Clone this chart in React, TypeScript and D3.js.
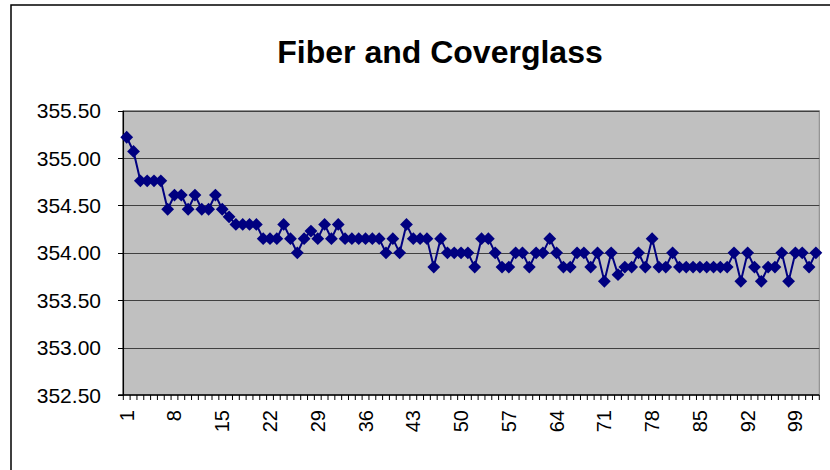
import React from "react";
import * as d3 from "d3";

const title = "Fiber and Coverglass";
const values: number[] = [
  355.22, 355.07, 354.76, 354.76, 354.76, 354.76, 354.46, 354.61, 354.61, 354.46,
  354.61, 354.46, 354.46, 354.61, 354.46, 354.38, 354.30, 354.30, 354.30, 354.30,
  354.15, 354.15, 354.15, 354.30, 354.15, 354.00, 354.15, 354.23, 354.15, 354.30,
  354.15, 354.30, 354.15, 354.15, 354.15, 354.15, 354.15, 354.15, 354.00, 354.15,
  354.00, 354.30, 354.15, 354.15, 354.15, 353.85, 354.15, 354.00, 354.00, 354.00,
  354.00, 353.85, 354.15, 354.15, 354.00, 353.85, 353.85, 354.00, 354.00, 353.85,
  354.00, 354.00, 354.15, 354.00, 353.85, 353.85, 354.00, 354.00, 353.85, 354.00,
  353.70, 354.00, 353.77, 353.85, 353.85, 354.00, 353.85, 354.15, 353.85, 353.85,
  354.00, 353.85, 353.85, 353.85, 353.85, 353.85, 353.85, 353.85, 353.85, 354.00,
  353.70, 354.00, 353.85, 353.70, 353.85, 353.85, 354.00, 353.70, 354.00, 354.00,
  353.85, 354.00,
];
const categories: number[] = values.map((_, i) => i + 1);
const yTicks: number[] = [352.5, 353.0, 353.5, 354.0, 354.5, 355.0, 355.5];
const xLabels: number[] = [1, 8, 15, 22, 29, 36, 43, 50, 57, 64, 71, 78, 85, 92, 99];

export default function App() {
  const left = 123.3, right = 819.3, top = 110.7, bottom = 395;
  const band = d3.scaleBand<number>().domain(categories).range([left, right]).padding(0);
  const cx = (c: number) => (band(c) as number) + band.bandwidth() / 2;
  const y = d3.scaleLinear().domain([352.5, 355.5]).range([bottom, top]);
  const line = d3.line<number>().x((_, i) => cx(categories[i])).y((v) => y(v));
  const boundaries = [...categories.map((c) => band(c) as number), right];
  const font = "'Liberation Sans', Arial, sans-serif";
  const dsz = 6.4;
  const diamond = `M0,${-dsz}L${dsz},0L0,${dsz}L${-dsz},0Z`;

  return (
    <svg width={830} height={470} style={{ position: "absolute", left: 0, top: 0, background: "#fff" }}>
      <rect x={11} y={5} width={900} height={500} fill="#fff" stroke="#000" strokeWidth={1.5} />
      <text x={440} y={63} textAnchor="middle" fontFamily={font} fontWeight="bold" fontSize={32}>
        {title}
      </text>
      <rect x={left} y={top} width={right - left} height={bottom - top} fill="#C0C0C0" stroke="#808080" strokeWidth={1} />
      {yTicks.filter((t) => t > 352.5).map((t) => (
        <line key={"g" + t} x1={left} x2={right} y1={Math.round(y(t)) + 0.5} y2={Math.round(y(t)) + 0.5} stroke="#404040" strokeWidth={1} />
      ))}
      {yTicks.map((t) => (
        <g key={"yt" + t}>
          <line x1={118} x2={left} y1={Math.round(y(t)) + 0.5} y2={Math.round(y(t)) + 0.5} stroke="#000" />
          <text x={101} y={y(t) + 7.5} textAnchor="end" fontFamily={font} fontSize={21}>
            {t.toFixed(2)}
          </text>
        </g>
      ))}
      <line x1={left} x2={left} y1={top} y2={bottom} stroke="#000" strokeWidth={1.5} />
      <line x1={left - 5} x2={right} y1={bottom} y2={bottom} stroke="#000" strokeWidth={1.5} />
      {boundaries.map((b, i) => (
        <line key={"xt" + i} x1={b} x2={b} y1={bottom} y2={bottom + 5} stroke="#000" strokeWidth={1} />
      ))}
      {xLabels.map((c) => (
        <text key={"xl" + c} transform={`translate(${cx(c) + 7},${410}) rotate(-90)`} textAnchor="end" fontFamily={font} fontSize={20}>
          {c}
        </text>
      ))}
      <path d={line(values) || ""} fill="none" stroke="#000080" strokeWidth={2} />
      {values.map((v, i) => (
        <path key={"m" + i} d={diamond} transform={`translate(${cx(categories[i])},${y(v)})`} fill="#000080" />
      ))}
    </svg>
  );
}
